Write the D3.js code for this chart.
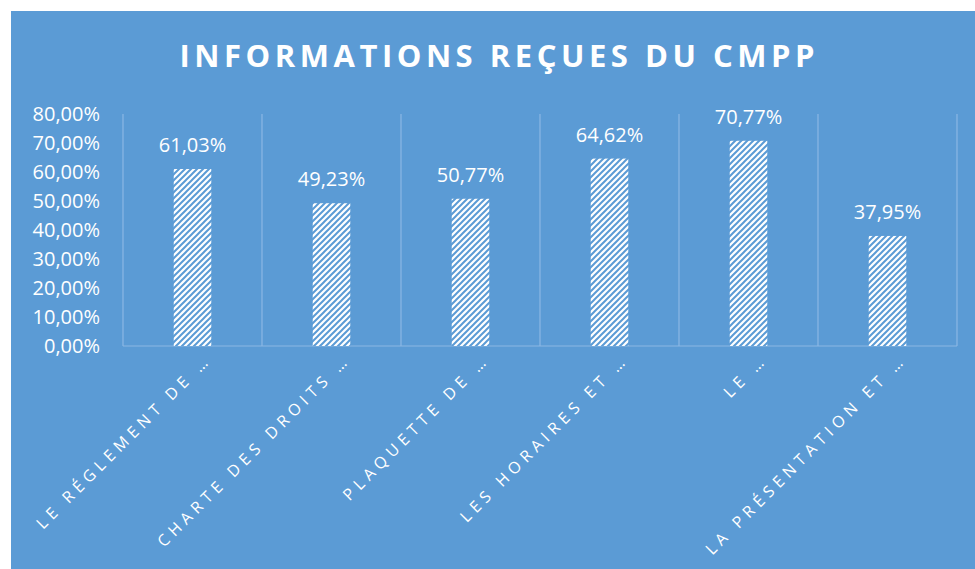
<!DOCTYPE html>
<html><head><meta charset="utf-8">
<script src="https://cdn.jsdelivr.net/npm/d3@7"></script>
<style>html,body{margin:0;padding:0;background:#fff;}svg{display:block;}</style>
</head><body>
<script>
const categories = ["LE RÉGLEMENT DE …","CHARTE DES DROITS …","PLAQUETTE DE …","LES HORAIRES ET …","LE …","LA PRÉSENTATION ET …"];
const values = [0.6103, 0.4923, 0.5077, 0.6462, 0.7077, 0.3795];
const yTicks = [0,0.1,0.2,0.3,0.4,0.5,0.6,0.7,0.8];
const title = "INFORMATIONS REÇUES DU CMPP";

const W = 975, H = 569;
const bg = "#5b9bd5";
const svg = d3.select("body").append("svg").attr("width", W).attr("height", H);
const font = "'Open Sans', 'Noto Sans', sans-serif";

const defs = svg.append("defs");
const pat = defs.append("pattern").attr("id","hatch").attr("patternUnits","userSpaceOnUse")
  .attr("width",6).attr("height",6);
pat.append("rect").attr("width",6).attr("height",6).attr("fill","#fff");
pat.append("path").attr("d","M-1.5,1.5 L1.5,-1.5 M0,6 L6,0 M4.5,7.5 L7.5,4.5")
  .attr("stroke","#5b9bd5").attr("stroke-width",2);

svg.append("rect").attr("x",11).attr("y",11).attr("width",W-11).attr("height",H-11).attr("fill",bg);

const m = {left:123, right:957, top:114, bottom:346};
const x = d3.scaleBand().domain(categories).range([m.left, m.right]).paddingInner(0).paddingOuter(0);
const y = d3.scaleLinear().domain([0,0.8]).range([m.bottom, m.top]);
const fmt = v => d3.format(".2f")(v*100).replace(".", ",") + "%";

// title
svg.append("text").attr("x", 497).attr("y", 67).attr("text-anchor","middle")
  .attr("fill","#fff").attr("font-family",font).attr("font-weight","bold")
  .attr("font-size",31).attr("textLength",635).attr("lengthAdjust","spacing")
  .text(title);

const gridColor = "#8cb8e4";
const bounds = categories.map(c => x(c)).concat([m.right]);
svg.append("g").selectAll("line").data(bounds).join("line")
  .attr("x1", d => d).attr("x2", d => d).attr("y1", m.top).attr("y2", m.bottom)
  .attr("stroke", gridColor).attr("stroke-width",1.2);
svg.append("line").attr("x1",m.left).attr("x2",m.right).attr("y1",y(0)).attr("y2",y(0))
  .attr("stroke",gridColor).attr("stroke-width",1.2);

// y axis
const yAxis = svg.append("g").attr("transform",`translate(${m.left},0)`)
  .call(d3.axisLeft(y).tickValues(yTicks).tickFormat(fmt).tickSize(0).tickPadding(23));
yAxis.select(".domain").remove();
yAxis.selectAll("text").attr("fill","#fff").attr("font-family",font).attr("font-size",20);

// bars
const bw = x.bandwidth()*0.27;
svg.append("g").selectAll("rect").data(values).join("rect")
  .attr("x",(d,i)=>x(categories[i]) + x.bandwidth()/2 - bw/2)
  .attr("y",d=>y(d)).attr("width",bw).attr("height",d=>y(0)-y(d))
  .attr("fill","url(#hatch)");

// value labels
svg.append("g").selectAll("text").data(values).join("text")
  .attr("x",(d,i)=>x(categories[i]) + x.bandwidth()/2)
  .attr("y",d=>y(d)-17).attr("text-anchor","middle")
  .attr("fill","#fff").attr("font-family",font).attr("font-size",20)
  .text(fmt);

// x labels
svg.append("g").selectAll("text").data(categories).join("text")
  .attr("transform",d=>`translate(${x(d)+x.bandwidth()/2+9},${m.bottom+4}) rotate(-45)`)
  .attr("text-anchor","end").attr("dy","0.95em")
  .attr("fill","#fff").attr("font-family",font).attr("font-size",16)
  .attr("letter-spacing","5px")
  .text(d=>d);
</script>
</body></html>
